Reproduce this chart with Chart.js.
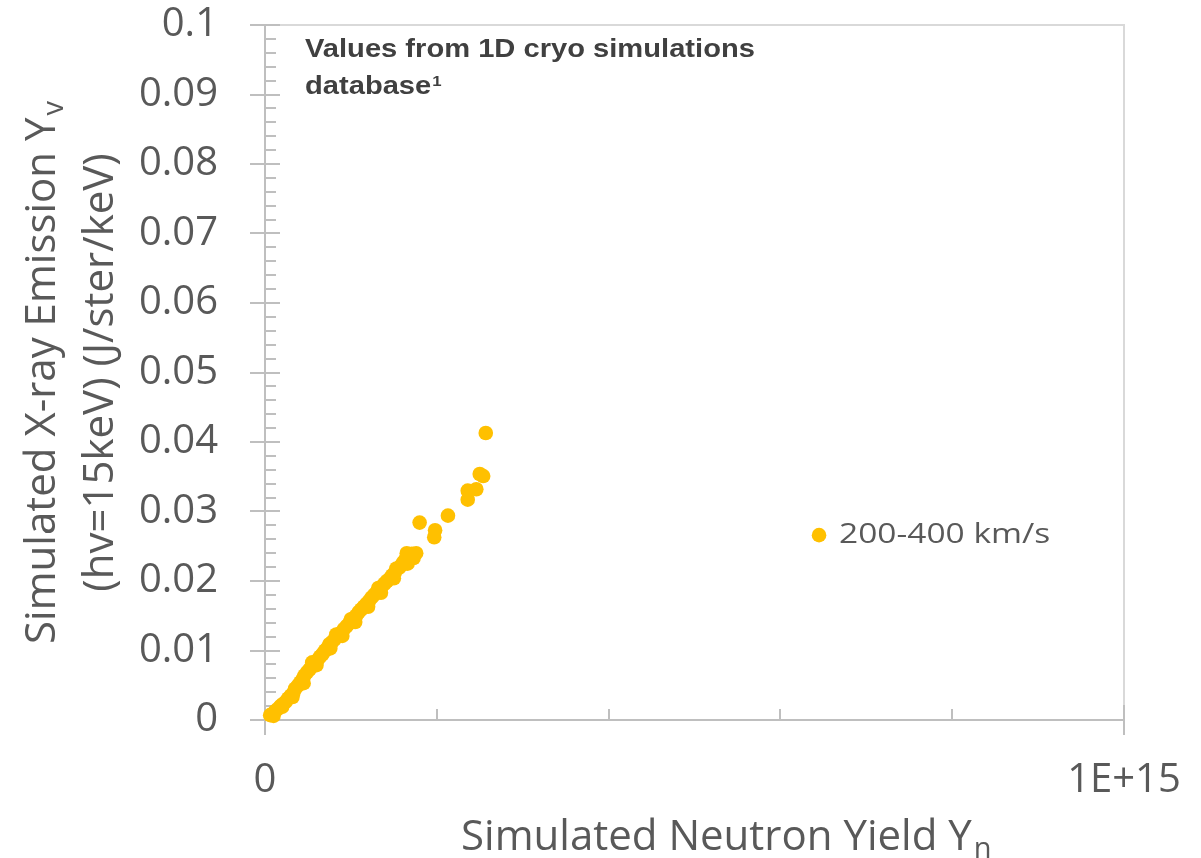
<!DOCTYPE html>
<html>
<head>
<meta charset="utf-8">
<title>Simulated X-ray Emission vs Neutron Yield</title>
<script src="https://cdn.jsdelivr.net/npm/chart.js@4.4.1/dist/chart.umd.min.js"></script>
<style>
  html, body { margin: 0; padding: 0; background: #fff; }
  #wrap { width: 1201px; height: 858px; }
</style>
</head>
<body>
<div id="wrap"><canvas id="yieldChart" width="1201" height="858"></canvas></div>
<script>
/* Scatter: simulated x-ray emission vs simulated neutron yield */
const seriesLabel = '200-400 km/s';

// neutron yield (x) and x-ray emission at hv=15keV (y)
const neutronYield = [
  0.6e13, 0.9e13, 1.2e13, 1.5e13, 1.8e13, 2.1e13, 2.4e13, 2.7e13, 3.0e13, 3.3e13,
  3.5e13, 3.8e13, 4.1e13, 4.4e13, 4.6e13, 4.9e13, 5.2e13, 5.5e13, 5.5e13, 5.8e13,
  6.1e13, 6.4e13, 6.7e13, 7.0e13, 7.3e13, 7.5e13, 7.8e13, 8.1e13, 8.3e13, 8.6e13,
  8.9e13, 9.2e13, 9.5e13, 9.8e13, 10.0e13, 10.3e13, 10.6e13, 10.9e13, 11.2e13, 11.5e13,
  11.8e13, 12.1e13, 12.4e13, 12.7e13, 13.0e13, 13.2e13, 13.6e13, 13.9e13, 14.2e13, 14.5e13,
  14.8e13, 15.1e13, 15.3e13, 15.6e13, 15.9e13, 16.1e13, 16.4e13, 16.5e13, 16.8e13, 17.1e13,
  17.6e13, 18.0e13, 19.7e13, 19.8e13, 21.3e13, 23.6e13, 23.6e13, 24.6e13, 25.0e13, 25.4e13,
  25.7e13,
  1.0e13, 2.0e13, 3.2e13, 4.5e13, 6.0e13, 7.6e13, 9.0e13, 10.5e13, 12.0e13, 13.5e13,
  15.0e13, 16.6e13, 17.3e13,
];
const xrayEmission = [
  0.0007, 0.0009, 0.0013, 0.0016, 0.0020, 0.0023, 0.0026, 0.0031, 0.0035, 0.0039,
  0.0045, 0.0049, 0.0054, 0.0059, 0.0064, 0.0069, 0.0073, 0.0078, 0.0083, 0.0082,
  0.0086, 0.0091, 0.0095, 0.0100, 0.0104, 0.0109, 0.0112, 0.0116, 0.0123, 0.0122,
  0.0126, 0.0131, 0.0135, 0.0139, 0.0145, 0.0146, 0.0150, 0.0155, 0.0159, 0.0163,
  0.0167, 0.0171, 0.0176, 0.0180, 0.0184, 0.0190, 0.0192, 0.0196, 0.0200, 0.0203,
  0.0208, 0.0212, 0.0218, 0.0219, 0.0223, 0.0227, 0.0232, 0.0240, 0.0235, 0.0239,
  0.0240, 0.0284, 0.0263, 0.0273, 0.0294, 0.0317, 0.0330, 0.0332, 0.0354, 0.0351,
  0.0413,
  0.0006, 0.0019, 0.0033, 0.0053, 0.0079, 0.0103, 0.0121, 0.0141, 0.0163, 0.0183,
  0.0204, 0.0225, 0.0233,
];

// axis ticks: labelled (major) values and their text
const yMajorTicks = [0, 0.01, 0.02, 0.03, 0.04, 0.05, 0.06, 0.07, 0.08, 0.09, 0.1];
const yTickText = ['0', '0.01', '0.02', '0.03', '0.04', '0.05', '0.06', '0.07', '0.08', '0.09', '0.1'];
const xMajorTicks = [0, 1e15];
const xTickText = ['0', '1E+15'];

const xTitle = ['Simulated Neutron Yield Y', 'n'];
const yTitle = [['Simulated X-ray Emission Y', 'v'], ['(hv=15keV) (J/ster/keV)', '']];
const noteLines = ['Values from 1D cryo simulations', 'database'];
const noteMark = '1';

const TEXT_GREY = '#595959';
const AXIS_GREY = '#bfbfbf';
const FONT = '"Open Sans", "DejaVu Sans", sans-serif';

function majorLabel(v, majors, texts) {
  const i = majors.findIndex((m) => Math.abs(m - v) < Math.abs(majors[1]) * 1e-6);
  return i >= 0 ? texts[i] : '';
}

function drawWithSub(ctx, main, sub, size, cx, base) {
  const subSize = Math.round(size * 0.7);
  ctx.font = `${size}px ${FONT}`;
  const w1 = ctx.measureText(main).width;
  ctx.font = `${subSize}px ${FONT}`;
  const w2 = sub ? ctx.measureText(sub).width + 2 : 0;
  const x0 = cx - (w1 + w2) / 2;
  ctx.textAlign = 'left';
  ctx.textBaseline = 'alphabetic';
  ctx.font = `${size}px ${FONT}`;
  ctx.fillText(main, x0, base);
  if (sub) {
    ctx.font = `${subSize}px ${FONT}`;
    ctx.fillText(sub, x0 + w1 + 2, base + size * 0.18);
  }
}

// Excel-like frame: light top/right border plus major/minor tick marks
const excelFrame = {
  id: 'excelFrame',
  beforeDatasetsDraw(chart) {
    const { ctx, chartArea: a, scales: { x, y } } = chart;
    ctx.save();
    ctx.strokeStyle = '#d9d9d9';
    ctx.lineWidth = 2;
    ctx.beginPath();
    ctx.moveTo(a.left, a.top);
    ctx.lineTo(a.right, a.top);
    ctx.lineTo(a.right, a.bottom);
    ctx.stroke();

    ctx.strokeStyle = AXIS_GREY;
    ctx.lineWidth = 2;
    ctx.beginPath();
    y.ticks.forEach((t) => {
      const py = Math.round(y.getPixelForValue(t.value));
      const major = t.label !== '';
      ctx.moveTo(a.left - (major ? 15 : 0), py);
      ctx.lineTo(a.left + (major ? 15 : 11), py);
    });
    x.ticks.forEach((t) => {
      const px = Math.round(x.getPixelForValue(t.value));
      const major = t.label !== '';
      ctx.moveTo(px, a.bottom - (major ? 15 : 11));
      ctx.lineTo(px, a.bottom + (major ? 15 : 0));
    });
    ctx.stroke();
    ctx.restore();
  },
};

// axis titles, note box and in-plot legend
const textLayer = {
  id: 'textLayer',
  afterDraw(chart) {
    const { ctx, chartArea: a } = chart;
    const w = a.right - a.left;
    const h = a.bottom - a.top;
    ctx.save();
    ctx.fillStyle = TEXT_GREY;

    drawWithSub(ctx, xTitle[0], xTitle[1], 42, a.left + w * 0.537, 850);

    ctx.save();
    ctx.translate(55, a.top + h / 2);
    ctx.rotate(-Math.PI / 2);
    drawWithSub(ctx, yTitle[0][0], yTitle[0][1], 42, 0, 0);
    drawWithSub(ctx, yTitle[1][0], yTitle[1][1], 42, 0, 58);
    ctx.restore();

    // note
    ctx.save();
    ctx.translate(a.left + 40, a.top + 32);
    ctx.scale(1.12, 1);
    ctx.fillStyle = '#404040';
    ctx.textAlign = 'left';
    ctx.textBaseline = 'alphabetic';
    ctx.font = 'bold 26px "Liberation Sans", Arial, sans-serif';
    ctx.fillText(noteLines[0], 0, 0);
    ctx.fillText(noteLines[1], 0, 36.5);
    const dw = ctx.measureText(noteLines[1]).width;
    ctx.font = 'bold 15px "Liberation Sans", Arial, sans-serif';
    ctx.fillText(noteMark, dw + 1, 29);
    ctx.restore();

    // legend
    const ds = chart.data.datasets[0];
    const lx = a.left + w * 0.645;
    const ly = a.top + h * 0.734;
    ctx.fillStyle = ds.backgroundColor;
    ctx.beginPath();
    ctx.arc(lx, ly, 7.3, 0, Math.PI * 2);
    ctx.fill();
    ctx.save();
    ctx.translate(lx + 20, ly + 8);
    ctx.scale(1.24, 1);
    ctx.fillStyle = TEXT_GREY;
    ctx.textAlign = 'left';
    ctx.textBaseline = 'alphabetic';
    ctx.font = `27px ${FONT}`;
    ctx.fillText(ds.label, 0, 0);
    ctx.restore();

    ctx.restore();
  },
};

const el = document.getElementById('yieldChart');
new Chart(el.getContext('2d'), {
  type: 'scatter',
  data: {
    datasets: [{
      label: seriesLabel,
      data: neutronYield.map((v, i) => ({ x: v, y: xrayEmission[i] })),
      backgroundColor: '#ffc000',
      borderColor: '#ffc000',
      borderWidth: 0,
      pointRadius: 7.3,
      pointHoverRadius: 7.3,
      clip: false,
    }],
  },
  options: {
    responsive: false,
    animation: false,
    devicePixelRatio: 1,
    layout: { padding: { top: 25, right: 77, bottom: 0, left: 0 } },
    plugins: { legend: { display: false }, tooltip: { enabled: false } },
    scales: {
      x: {
        type: 'linear',
        min: 0,
        max: 1e15,
        afterFit: (s) => { s.height = 138; },
        // invisible tick length pushes labels down without adding layout padding
        grid: { display: true, drawOnChartArea: false, drawTicks: true, tickLength: 37, tickColor: 'rgba(0,0,0,0)' },
        border: { display: true, color: AXIS_GREY, width: 2 },
        ticks: {
          stepSize: 2e14,
          autoSkip: false,
          maxRotation: 0,
          padding: 0,
          color: TEXT_GREY,
          font: { family: FONT, size: 40 },
          callback: (v) => majorLabel(v, xMajorTicks, xTickText),
        },
      },
      y: {
        type: 'linear',
        min: 0,
        max: 0.1,
        afterFit: (s) => { s.width = 265; },
        grid: { display: true, drawOnChartArea: false, drawTicks: true, tickLength: 47, tickColor: 'rgba(0,0,0,0)' },
        border: { display: true, color: AXIS_GREY, width: 2 },
        ticks: {
          stepSize: 0.002,
          autoSkip: false,
          padding: 0,
          color: TEXT_GREY,
          font: { family: FONT, size: 40 },
          callback: (v) => majorLabel(v, yMajorTicks, yTickText),
        },
      },
    },
  },
  plugins: [excelFrame, textLayer],
});
</script>
</body>
</html>
